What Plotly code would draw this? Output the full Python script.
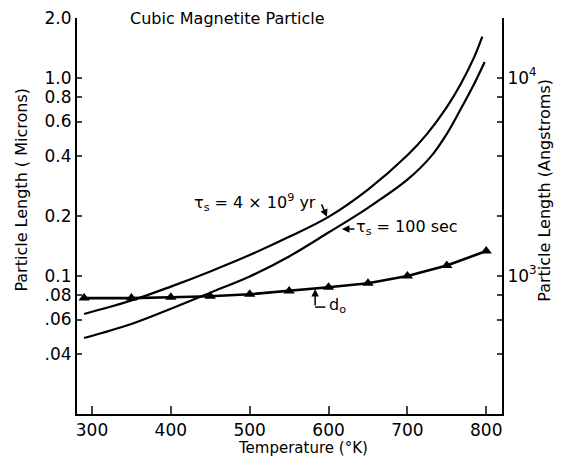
import numpy as np
import plotly.graph_objects as go

# ---- data ----
temp_tau_long = [290, 350, 400, 450, 500, 550, 600, 650, 700, 725, 750, 767, 784, 795]
len_tau_long = [0.064, 0.0748, 0.088, 0.105, 0.127, 0.157, 0.198, 0.272, 0.405, 0.52, 0.71, 0.918, 1.25, 1.61]

temp_tau_short = [290, 350, 400, 450, 500, 550, 600, 650, 700, 730, 750, 767, 784, 798]
len_tau_short = [0.0484, 0.057, 0.068, 0.082, 0.099, 0.125, 0.165, 0.22, 0.305, 0.40, 0.52, 0.686, 0.918, 1.2]

temp_d0 = [290, 350, 400, 450, 500, 550, 600, 650, 700, 750, 800]
len_d0 = [0.077, 0.077, 0.0778, 0.0787, 0.0805, 0.0836, 0.0873, 0.0915, 0.0995, 0.1125, 0.133]

x_ticks = [300, 400, 500, 600, 700, 800]
left_tickvals = [2.0, 1.0, 0.8, 0.6, 0.4, 0.2, 0.1, 0.08, 0.06, 0.04]
left_ticktext = ["2.0", "1.0", "0.8", "0.6", "0.4", "0.2", "0.1", ".08", ".06", ".04"]
right_tickvals = [400, 600, 800, 1000, 2000, 4000, 6000, 8000, 10000]
right_ticktext = ["", "", "", "10<sup>3</sup>", "", "", "", "", "10<sup>4</sup>"]

FONT = "DejaVu Sans"

fig = go.Figure()
fig.add_trace(go.Scatter(x=temp_tau_long, y=len_tau_long, mode="lines",
                         line=dict(color="black", width=2.2, shape="spline", smoothing=1.0),
                         showlegend=False))
fig.add_trace(go.Scatter(x=temp_tau_short, y=len_tau_short, mode="lines",
                         line=dict(color="black", width=2.2, shape="spline", smoothing=1.0),
                         showlegend=False))
fig.add_trace(go.Scatter(x=temp_d0, y=len_d0, mode="lines+markers",
                         line=dict(color="black", width=2.6),
                         marker=dict(symbol="triangle-up", size=10, color="black"),
                         showlegend=False))
# invisible trace to activate right axis
fig.add_trace(go.Scatter(x=[temp_d0[0]], y=[len_d0[0] * 1e4], yaxis="y2", mode="markers",
                         marker=dict(opacity=0), showlegend=False, hoverinfo="skip"))

fig.update_layout(
    width=562, height=457,
    margin=dict(l=77, r=60, t=18, b=43, autoexpand=False),
    paper_bgcolor="white", plot_bgcolor="white",
    font=dict(family=FONT, color="black", size=16),
    xaxis=dict(range=[281, 820], tickvals=x_ticks, ticks="inside", ticklen=8, tickwidth=1.5,
               showline=True, linewidth=2, linecolor="black", showgrid=False, zeroline=False,
               tickfont=dict(size=17), mirror=False, automargin=False),
    yaxis=dict(type="log", range=[np.log10(0.02), np.log10(2.0)],
               tickvals=left_tickvals, ticktext=left_ticktext,
               ticks="inside", ticklen=5, tickwidth=1.5,
               showline=True, linewidth=2, linecolor="black", showgrid=False, zeroline=False,
               tickfont=dict(size=17), automargin=False),
    yaxis2=dict(type="log", range=[np.log10(200), np.log10(20000)], overlaying="y", side="right",
                tickvals=right_tickvals, ticktext=right_ticktext,
                ticks="inside", ticklen=5, tickwidth=1.5,
                showline=True, linewidth=2, linecolor="black", showgrid=False, zeroline=False,
                tickfont=dict(size=17), automargin=False),
)

ann = []
ann.append(dict(text="Cubic Magnetite Particle", xref="paper", yref="paper", x=0.355, y=1.0,
                xanchor="center", yanchor="middle", showarrow=False, font=dict(size=16)))
ann.append(dict(text="Particle Length ( Microns)", xref="paper", yref="paper", x=-0.13, y=0.566,
                textangle=-90, xanchor="center", yanchor="middle", showarrow=False, font=dict(size=16)))
ann.append(dict(text="Particle Length (Angstroms)", xref="paper", yref="paper", x=1.101, y=0.566,
                textangle=-90, xanchor="center", yanchor="middle", showarrow=False, font=dict(size=16)))
ann.append(dict(text="Temperature (°K)", xref="paper", yref="paper", x=0.532, y=-0.086,
                xanchor="center", yanchor="middle", showarrow=False, font=dict(size=15)))
# tau = 4e9 yr label + arrow
ann.append(dict(text="τ<sub>s</sub> = 4 × 10<sup>9</sup> yr", x=587, y=np.log10(0.233),
                xanchor="right", yanchor="middle", showarrow=False, font=dict(size=16)))
ann.append(dict(text="", x=598, y=np.log10(0.198), ax=-6, ay=-14, showarrow=True,
                arrowhead=2, arrowsize=1, arrowwidth=1.5, arrowcolor="black"))
# tau = 100 sec label + arrow
ann.append(dict(text="τ<sub>s</sub> = 100 sec", x=632, y=np.log10(0.174),
                xanchor="left", yanchor="middle", showarrow=False, font=dict(size=16)))
ann.append(dict(text="", x=617, y=np.log10(0.172), ax=14, ay=0, showarrow=True,
                arrowhead=2, arrowsize=1, arrowwidth=1.5, arrowcolor="black"))
# d0 label + L arrow
ann.append(dict(text="", x=583, y=np.log10(0.0855), ax=0, ay=18, showarrow=True,
                arrowhead=2, arrowsize=1, arrowwidth=1.5, arrowcolor="black"))
ann.append(dict(text="d<sub>o</sub>", x=598, y=np.log10(0.0705),
                xanchor="left", yanchor="middle", showarrow=False, font=dict(size=16)))
fig.update_layout(annotations=ann)
fig.add_shape(type="line", xref="x", yref="paper", x0=583, x1=596, y0=0.27, y1=0.27,
              line=dict(color="black", width=1.5))

fig.write_html("out.html", config={"displayModeBar": False},
               post_script="document.body.style.margin='0';document.body.style.overflow='hidden';")
